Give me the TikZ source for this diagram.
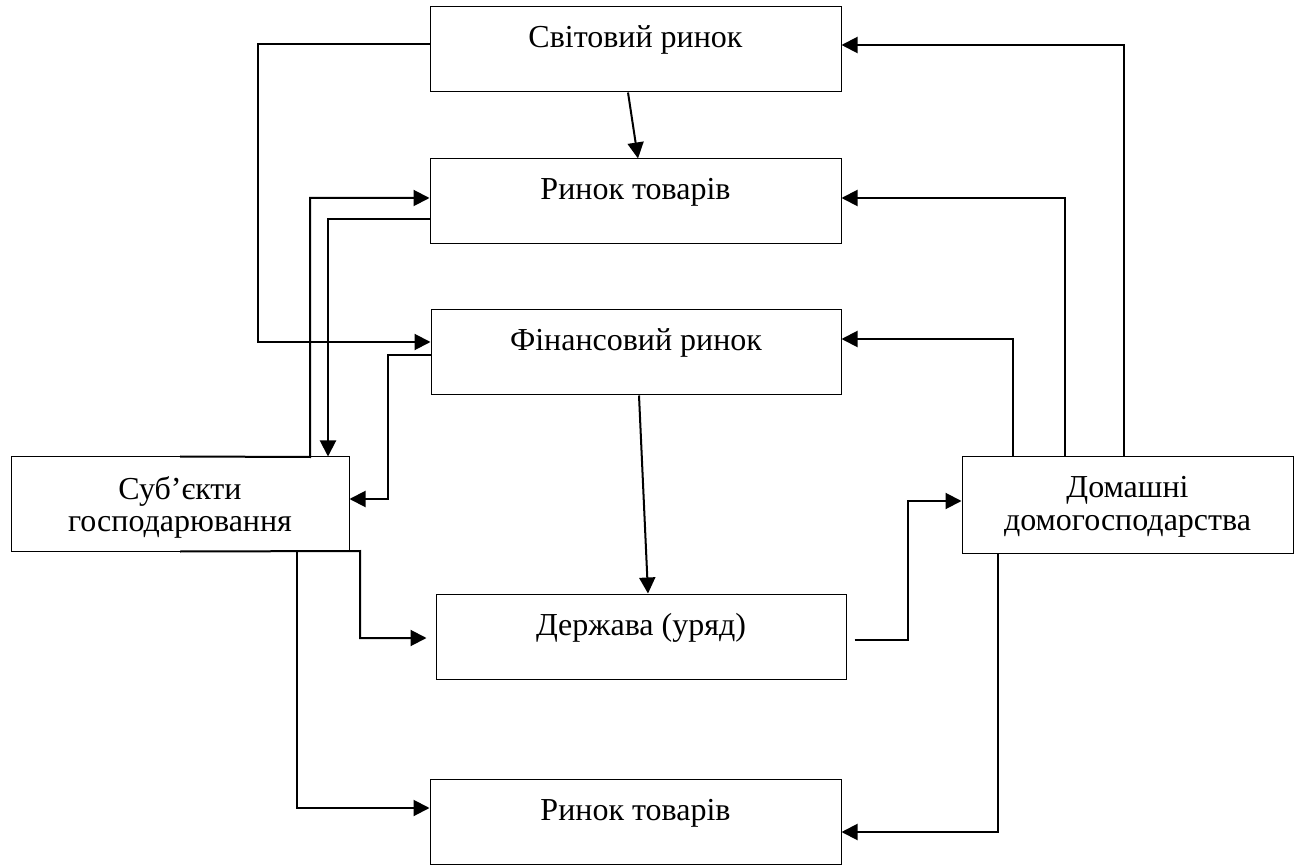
\documentclass[tikz,border=0pt]{standalone}
\usepackage{fontspec}
\setmainfont{Liberation Serif}
\usetikzlibrary{arrows.meta}

\begin{document}
\begin{tikzpicture}[x=0.5pt,y=-0.5pt,
    box/.style={draw,line width=0.5pt,inner sep=0pt,minimum width=205.5pt,
      text height=20.5pt,text depth=22pt,font=\fontsize{16}{16.5}\selectfont},
    arr/.style={line width=1pt,-{Triangle[length=8pt,width=8pt]}}]
    \useasboundingbox (0,0) rectangle (1294,865);

    \node[box] (0) at (635.5,49.5) {Світовий ринок};
    \node[box] (1) at (635.5,201.5) {Ринок товарів};
    \node[box,minimum width=205pt] (2) at (636,352.5) {Фінансовий ринок};

    \node[box,minimum width=169pt,text height=21pt,text depth=26pt] (3) at (180,504)
      {\begin{tabular}[t]{@{}c@{}}Суб’єкти\\господарювання\end{tabular}};
    \node[box,minimum width=165.5pt,text height=20pt,text depth=28pt] (4) at (1127.5,505)
      {\begin{tabular}[t]{@{}c@{}}Домашні\\домогосподарства\end{tabular}};

    \node[box,minimum width=205pt] (5) at (641,636.5) {Держава (уряд)};
    \node[box] (6) at (635.5,821.5) {Ринок товарів};

    \draw[arr] (0.west |- 0,44) -| (258,342) -- (2.west |- 0,342);
    \draw[arr] (3.north) -- (310,457) |- (1.west |- 0,198);
    \draw[arr] (1.west |- 0,219) -| (3.north -| 328,0);
    \draw[arr] (2.west |- 0,355) -| (388,499) -- (3.east |- 0,499);
    \draw[arr] (0.south -| 628,0) -- (1.north -| 638,0);
    \draw[arr] (2.south -| 639,0) -- (5.north -| 648,0);
    \draw[arr] (3.south -| 297,0) |- (6.west |- 0,808);
    \draw[arr,shorten >=4.5pt] (3.south) -- (360,551) |- (5.west |- 0,638);
    \draw[arr,shorten <=4pt] (5.east |- 0,640) -| (908,501) -- (4.west |- 0,501);
    \draw[arr] (4.south -| 998,0) |- (6.east |- 0,832);
    \draw[arr] (4.north -| 1013,0) |- (2.east |- 0,339);
    \draw[arr] (4.north -| 1065,0) |- (1.east |- 0,198);
    \draw[arr] (4.north -| 1124,0) |- (0.east |- 0,45);
  \end{tikzpicture}
\end{document}
